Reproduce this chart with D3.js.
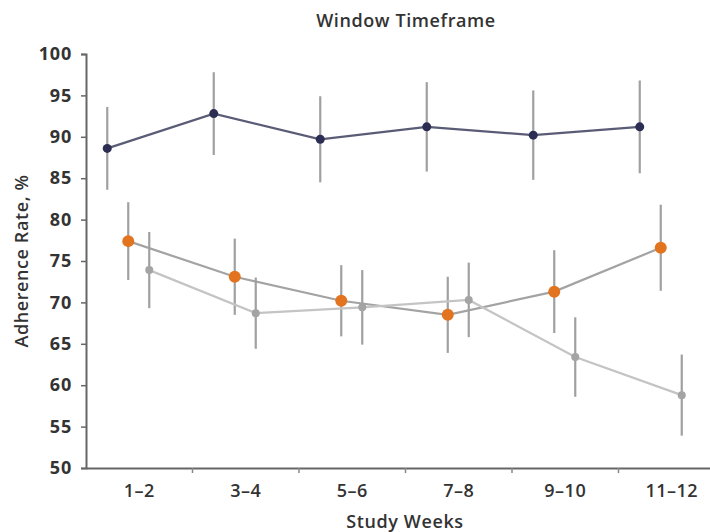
<!DOCTYPE html>
<html>
<head>
<meta charset="utf-8">
<script src="https://cdn.jsdelivr.net/npm/d3@7"></script>
<style>
  body { margin: 0; background: #fff; }
  text { font-family: "Open Sans", sans-serif; fill: #333; }
</style>
</head>
<body>
<div id="chart"></div>
<script>
// data
const weeks = ["1–2", "3–4", "5–6", "7–8", "9–10", "11–12"];
const yTicks = [50, 55, 60, 65, 70, 75, 80, 85, 90, 95, 100];

const navyMean = [88.6, 92.8, 89.7, 91.2, 90.2, 91.2];
const navyErr  = [5.0, 5.0, 5.2, 5.4, 5.4, 5.6];

const orangeMean = [77.4, 73.1, 70.2, 68.5, 71.3, 76.6];
const orangeErr  = [4.7, 4.6, 4.3, 4.6, 5.0, 5.2];

const greyMean = [73.9, 68.7, 69.4, 70.3, 63.4, 58.8];
const greyErr  = [4.6, 4.3, 4.5, 4.5, 4.8, 4.9];

const series = [
  { mean: navyMean, err: navyErr, offset: -32, line: "#5a5c76", dot: "#2c2d52", r: 4.5 },
  { mean: orangeMean, err: orangeErr, offset: -11, line: "#a3a3a3", dot: "#e2741f", r: 6 },
  { mean: greyMean, err: greyErr, offset: 10, line: "#c4c4c4", dot: "#a4a4a4", r: 4 }
];

const W = 710, H = 532;
const margin = { top: 54, right: -15, bottom: 64, left: 86 };

const svg = d3.select("#chart").append("svg")
  .attr("width", W)
  .attr("height", H);

const x = d3.scaleBand()
  .domain(weeks)
  .range([margin.left, W - margin.right]);

const y = d3.scaleLinear()
  .domain([50, 100])
  .range([H - margin.bottom, margin.top]);

// title
svg.append("text")
  .attr("x", 406)
  .attr("y", 27)
  .attr("text-anchor", "middle")
  .style("font-size", "18px")
  .style("font-weight", "600")
  .style("letter-spacing", "0.6px")
  .text("Window Timeframe");

// y axis
const yAxis = svg.append("g")
  .attr("transform", `translate(${margin.left},0)`)
  .call(d3.axisLeft(y).tickValues(yTicks).tickSize(5).tickPadding(9));
yAxis.select(".domain").attr("stroke", "#666").attr("stroke-width", 2);
yAxis.selectAll(".tick line").attr("stroke", "#666").attr("stroke-width", 1.5);
yAxis.selectAll(".tick text")
  .style("font-size", "18px")
  .style("font-weight", "700")
  .style("letter-spacing", "0.8px")
  .attr("fill", "#333");

// x axis (ticks at category boundaries)
const xAxis = svg.append("g")
  .attr("transform", `translate(0,${y(50)})`)
  .call(d3.axisBottom(x).tickSize(0).tickPadding(16));
xAxis.select(".domain").attr("stroke", "#666").attr("stroke-width", 2);
xAxis.selectAll(".tick text")
  .style("font-size", "18px")
  .style("font-weight", "600")
  .style("letter-spacing", "0.5px")
  .attr("fill", "#333");
xAxis.selectAll(".bound")
  .data(weeks.slice(1))
  .enter()
  .append("line")
  .attr("x1", d => x(d))
  .attr("x2", d => x(d))
  .attr("y1", 0)
  .attr("y2", 5)
  .attr("stroke", "#888")
  .attr("stroke-width", 1.5);

// axis titles
svg.append("text")
  .attr("x", 405)
  .attr("y", 528)
  .attr("text-anchor", "middle")
  .style("font-size", "18px")
  .style("font-weight", "600")
  .style("letter-spacing", "0.6px")
  .text("Study Weeks");

svg.append("text")
  .attr("transform", `translate(28,${(y(50) + y(100)) / 2}) rotate(-90)`)
  .attr("text-anchor", "middle")
  .style("font-size", "18px")
  .style("font-weight", "600")
  .style("letter-spacing", "0.6px")
  .text("Adherence Rate, %");

const cx = (s, i) => x(weeks[i]) + x.bandwidth() / 2 + s.offset;

series.forEach(s => {
  const pts = weeks.map((w, i) => i);

  // error bars
  svg.append("g").selectAll("line")
    .data(pts)
    .enter()
    .append("line")
    .attr("x1", i => cx(s, i))
    .attr("x2", i => cx(s, i))
    .attr("y1", i => y(s.mean[i] - s.err[i]))
    .attr("y2", i => y(s.mean[i] + s.err[i]))
    .attr("stroke", "#a0a0a0")
    .attr("stroke-width", 2.2);

  // connecting line
  svg.append("path")
    .datum(pts)
    .attr("fill", "none")
    .attr("stroke", s.line)
    .attr("stroke-width", 2.2)
    .attr("d", d3.line().x(i => cx(s, i)).y(i => y(s.mean[i])));

  // markers
  svg.append("g").selectAll("circle")
    .data(pts)
    .enter()
    .append("circle")
    .attr("cx", i => cx(s, i))
    .attr("cy", i => y(s.mean[i]))
    .attr("r", s.r)
    .attr("fill", s.dot);
});
</script>
</body>
</html>
